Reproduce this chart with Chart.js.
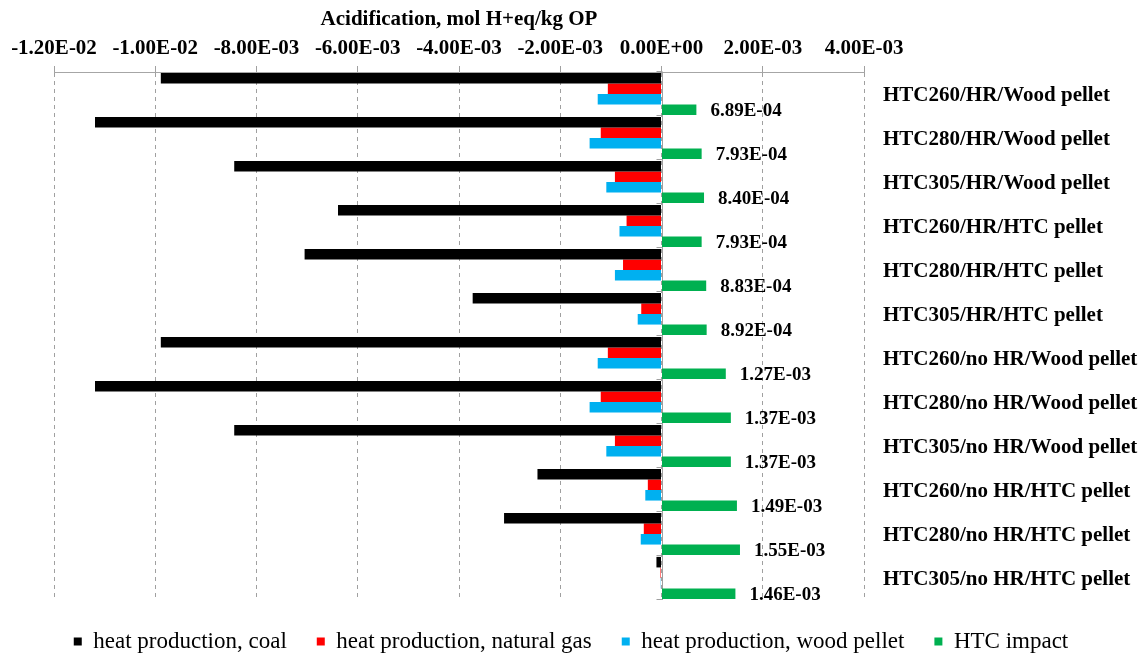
<!DOCTYPE html>
<html>
<head>
<meta charset="utf-8">
<title>Acidification</title>
<script src="https://cdn.jsdelivr.net/npm/chart.js@4/dist/chart.umd.min.js"></script>
<style>
  html, body { margin: 0; padding: 0; background: #ffffff; }
  #wrap { width: 1142px; height: 661px; }
</style>
</head>
<body>
<div id="wrap"><canvas id="c" width="1142" height="661"></canvas></div>
<script>
// Scenario names (top to bottom)
const categories = [
  'HTC260/HR/Wood pellet',
  'HTC280/HR/Wood pellet',
  'HTC305/HR/Wood pellet',
  'HTC260/HR/HTC pellet',
  'HTC280/HR/HTC pellet',
  'HTC305/HR/HTC pellet',
  'HTC260/no HR/Wood pellet',
  'HTC280/no HR/Wood pellet',
  'HTC305/no HR/Wood pellet',
  'HTC260/no HR/HTC pellet',
  'HTC280/no HR/HTC pellet',
  'HTC305/no HR/HTC pellet'
];

// Acidification contributions, mol H+ eq per kg OP
const heatCoal = [-9.89e-3, -1.119e-2, -8.44e-3, -6.39e-3, -7.05e-3, -3.73e-3,
                  -9.89e-3, -1.119e-2, -8.44e-3, -2.45e-3, -3.11e-3, -1.0e-4];
const heatNaturalGas = [-1.06e-3, -1.20e-3, -9.2e-4, -6.9e-4, -7.6e-4, -4.0e-4,
                        -1.06e-3, -1.20e-3, -9.2e-4, -2.7e-4, -3.5e-4, -2e-5];
const heatWoodPellet = [-1.26e-3, -1.42e-3, -1.09e-3, -8.3e-4, -9.2e-4, -4.7e-4,
                        -1.26e-3, -1.42e-3, -1.09e-3, -3.2e-4, -4.1e-4, -1.5e-5];
const htcImpact = [6.89e-4, 7.93e-4, 8.40e-4, 7.93e-4, 8.83e-4, 8.92e-4,
                   1.27e-3, 1.37e-3, 1.37e-3, 1.49e-3, 1.55e-3, 1.46e-3];

// Value axis ticks
const tickValues = [-0.012, -0.010, -0.008, -0.006, -0.004, -0.002, 0, 0.002, 0.004];
const tickLabels = ['-1.20E-02', '-1.00E-02', '-8.00E-03', '-6.00E-03', '-4.00E-03',
                    '-2.00E-03', '0.00E+00', '2.00E-03', '4.00E-03'];

const SERIF = '"Liberation Serif", "Times New Roman", serif';
Chart.defaults.font.family = SERIF;
Chart.defaults.color = '#000000';

// Scientific notation with a two-digit exponent, e.g. 6.89E-04
function sci(v) {
  const parts = v.toExponential(2).split('e');
  const sign = parts[1][0];
  const digits = parts[1].slice(1).padStart(2, '0');
  return parts[0] + 'E' + sign + digits;
}

// Solid value-zero axis line with small category tick marks
const zeroAxis = {
  id: 'zeroAxis',
  beforeDatasetsDraw(chart) {
    const { ctx, chartArea, scales } = chart;
    const x0 = Math.round(scales.x.getPixelForValue(0)) + 0.5;
    ctx.save();
    ctx.strokeStyle = '#a0a0a0';
    ctx.lineWidth = 1;
    ctx.beginPath();
    ctx.moveTo(x0, chartArea.top);
    ctx.lineTo(x0, chartArea.bottom);
    const n = categories.length;
    const step = (chartArea.bottom - chartArea.top) / n;
    for (let i = 0; i <= n; i++) {
      const y = Math.round(chartArea.top + i * step) - 0.5;
      ctx.moveTo(x0 - 6, y);
      ctx.lineTo(x0, y);
    }
    ctx.stroke();
    ctx.restore();
  }
};

// Value labels beside the HTC impact bars
const htcLabels = {
  id: 'htcLabels',
  afterDatasetsDraw(chart) {
    const { ctx } = chart;
    const meta = chart.getDatasetMeta(3);
    ctx.save();
    ctx.font = 'bold 19px ' + SERIF;
    ctx.fillStyle = '#000000';
    ctx.textAlign = 'left';
    ctx.textBaseline = 'middle';
    meta.data.forEach((bar, i) => {
      ctx.fillText(sci(htcImpact[i]), bar.x + 14, bar.y + 1.5);
    });
    ctx.restore();
  }
};

new Chart(document.getElementById('c'), {
  type: 'bar',
  data: {
    labels: categories,
    datasets: [
      { label: 'heat production, coal', data: heatCoal, backgroundColor: '#000000' },
      { label: 'heat production, natural gas', data: heatNaturalGas, backgroundColor: '#ff0000' },
      { label: 'heat production, wood pellet', data: heatWoodPellet, backgroundColor: '#00b0f0' },
      { label: 'HTC impact', data: htcImpact, backgroundColor: '#00b050' }
    ]
  },
  options: {
    indexAxis: 'y',
    responsive: false,
    animation: false,
    datasets: {
      bar: { categoryPercentage: 0.96, barPercentage: 1.0, borderWidth: 0 }
    },
    layout: { padding: 0 },
    scales: {
      x: {
        position: 'top',
        min: -0.012,
        max: 0.004,
        afterBuildTicks(scale) {
          scale.ticks = tickValues.map(v => ({ value: v }));
        },
        afterFit(scale) { scale.height = 72; },
        ticks: {
          callback: (v, i) => tickLabels[i],
          font: { size: 21, weight: 'bold' },
          color: '#000000',
          padding: 5,
          maxRotation: 0,
          autoSkip: false
        },
        grid: {
          color: '#a0a0a0',
          lineWidth: 1,
          drawTicks: true,
          tickLength: 6,
          tickColor: '#a0a0a0',
          tickBorderDash: []
        },
        border: { display: true, color: '#a6a6a6', width: 1, dash: [4, 4] },
        title: {
          display: true,
          text: 'Acidification, mol H+eq/kg OP',
          font: { size: 21, weight: 'bold' },
          color: '#000000',
          padding: { top: 7, bottom: 0 }
        }
      },
      y: {
        position: 'right',
        afterFit(scale) { scale.width = 278; },
        grid: { display: false, drawTicks: false },
        border: { display: false },
        ticks: {
          font: { size: 21, weight: 'bold' },
          color: '#000000',
          padding: 19,
          labelOffset: 2,
          autoSkip: false
        }
      },
      // empty left margin axis, keeps room for the first value label
      yMargin: {
        type: 'linear',
        axis: 'y',
        position: 'left',
        afterFit(scale) { scale.width = 54; },
        grid: { display: false, drawTicks: false },
        border: { display: false },
        ticks: { display: false }
      }
    },
    plugins: {
      legend: {
        position: 'bottom',
        maxHeight: 61,
        labels: {
          boxWidth: 8,
          boxHeight: 8,
          padding: 30,
          color: '#000000',
          font: { size: 23, weight: 'normal' }
        }
      },
      tooltip: { enabled: false },
      title: { display: false }
    }
  },
  plugins: [zeroAxis, htcLabels]
});
</script>
</body>
</html>
